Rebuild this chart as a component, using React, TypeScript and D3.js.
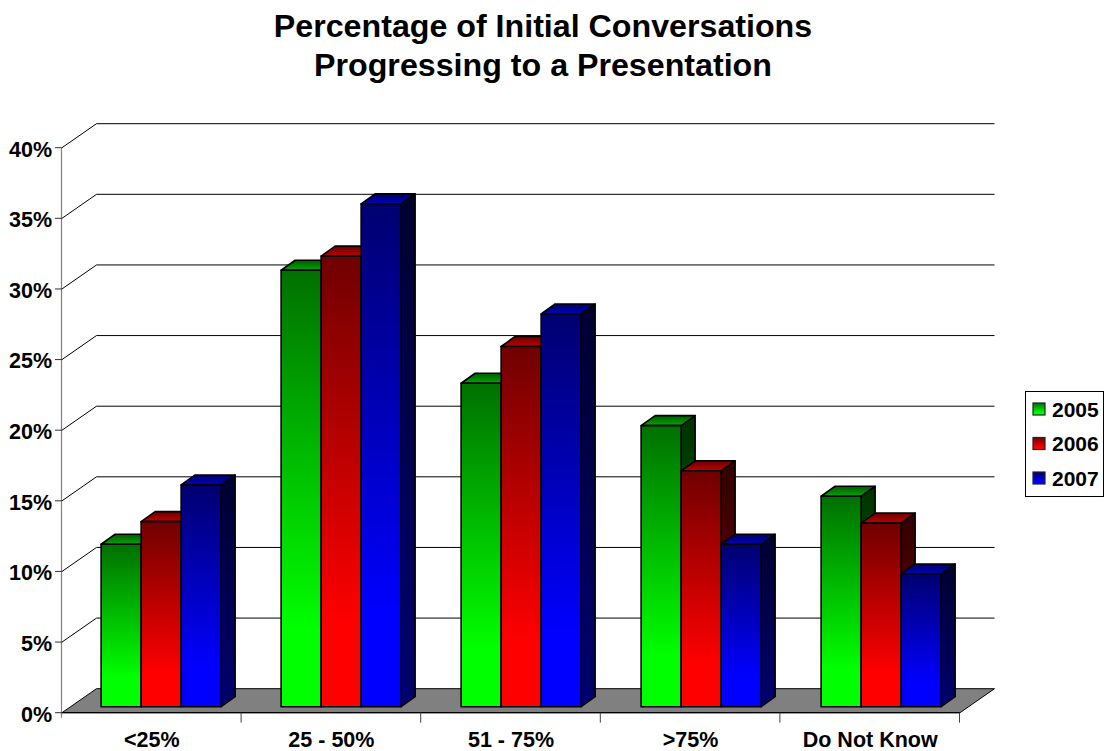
import React from "react";
import * as d3 from "d3";

const categories = ["<25%", "25 - 50%", "51 - 75%", ">75%", "Do Not Know"];
const seriesNames = ["2005", "2006", "2007"];
const values2005 = [11.5, 30.9, 22.9, 19.9, 14.9];
const values2006 = [13.1, 31.9, 25.5, 16.7, 13.0];
const values2007 = [15.7, 35.6, 27.8, 11.5, 9.4];
const yTicks = [0, 5, 10, 15, 20, 25, 30, 35, 40];
const titleLines = ["Percentage of Initial Conversations", "Progressing to a Presentation"];

const seriesValues = [values2005, values2006, values2007];
const palette = [
  { front0: "#007000", front1: "#00ff00", side0: "#003300", side1: "#007000", top0: "#005a00", top1: "#00a800" },
  { front0: "#700000", front1: "#ff0000", side0: "#330000", side1: "#700000", top0: "#6a0000", top1: "#c00000" },
  { front0: "#000070", front1: "#0000ff", side0: "#000030", side1: "#000070", top0: "#000070", top1: "#0000b8" },
];

const FONT = "'Liberation Sans', Arial, sans-serif";

// Oblique projection: the front plane of the box and the wall are offset by (wallDx, -wallDy).
const frontLeft = 62;
const frontRight = 960;
const frontBase = 712.7;
const frontTop = 147.7;
const wallDx = 34.5;
const wallDy = 24;
const barInset = 0.25;
const barDx = 14;
const barDy = 10;

const x = d3.scaleBand<string>().domain(categories).range([frontLeft, frontRight]);
// Bar clusters sit on a slightly wider pitch than the axis categories.
const cluster = d3.scaleBand<string>().domain(categories).range([frontLeft + 0.5, frontLeft + 900.5]);
const y = d3.scaleLinear().domain([0, 40]).range([frontBase, frontTop]);
const inner = d3.scaleBand<string>().domain(seriesNames).range([0, 120]);

const pts = (p: [number, number][]) => p.map((q) => q.join(",")).join(" ");

export default function App() {
  const barOffsetX = wallDx * barInset;
  const barOffsetY = wallDy * barInset;
  const catStep = x.step();
  const groupPad = (cluster.step() - 120) / 2;
  const edgeTicks = d3.range(categories.length + 1).map((i) => frontLeft + i * catStep);

  return (
    <svg
      width={1104}
      height={751}
      viewBox="0 0 1104 751"
      style={{ position: "absolute", left: 0, top: 0, display: "block", background: "#fff" }}
      fontFamily={FONT}
    >
      <defs>
        {palette.map((c, i) => (
          <React.Fragment key={i}>
            <linearGradient id={`front${i}`} x1="0" y1="0" x2="0" y2="1">
              <stop offset="0" stopColor={c.front0} />
              <stop offset="0.82" stopColor={c.front1} />
              <stop offset="1" stopColor={c.front1} />
            </linearGradient>
            <linearGradient id={`side${i}`} x1="0" y1="0" x2="0" y2="1">
              <stop offset="0" stopColor={c.side0} />
              <stop offset="1" stopColor={c.side1} />
            </linearGradient>
            <linearGradient id={`top${i}`} x1="0" y1="0" x2="0" y2="1">
              <stop offset="0" stopColor={c.top0} />
              <stop offset="1" stopColor={c.top1} />
            </linearGradient>
          </React.Fragment>
        ))}
      </defs>

      {titleLines.map((t, i) => (
        <text key={t} x={543} y={36.5 + i * 39} textAnchor="middle" fontSize={32.2} fontWeight="bold" fill="#000">
          {t}
        </text>
      ))}

      {/* floor */}
      <polygon
        points={pts([
          [frontLeft, frontBase],
          [frontLeft + wallDx, frontBase - wallDy],
          [frontRight + wallDx, frontBase - wallDy],
          [frontRight, frontBase],
        ])}
        fill="#808080"
        stroke="#000"
        strokeWidth={1}
      />

      {/* gridlines run along the side wall, then across the back wall */}
      {yTicks.filter((t) => t > 0).map((t) => (
        <polyline
          key={t}
          points={pts([
            [frontLeft, y(t)],
            [frontLeft + wallDx, y(t) - wallDy],
            [frontRight + wallDx, y(t) - wallDy],
          ])}
          fill="none"
          stroke="#000"
          strokeWidth={1}
        />
      ))}

      {/* axes */}
      <line x1={frontLeft - 0.5} x2={frontLeft - 0.5} y1={frontTop} y2={frontBase + 5} stroke="#808080" strokeWidth={1.2} />
      <line x1={frontLeft} x2={frontRight} y1={frontBase} y2={frontBase} stroke="#000" strokeWidth={1.2} />
      {yTicks.map((t) => (
        <g key={t}>
          <line x1={frontLeft - 7} x2={frontLeft} y1={y(t)} y2={y(t)} stroke="#333" strokeWidth={1} />
          <text x={52} y={y(t) + 8.8} textAnchor="end" fontSize={21.5} fontWeight="bold" fill="#000">
            {t}%
          </text>
        </g>
      ))}
      {edgeTicks.slice(1).map((tx) => (
        <line key={tx} x1={tx - 0.5} x2={tx - 0.5} y1={frontBase} y2={frontBase + 10} stroke="#444" strokeWidth={1} />
      ))}
      {categories.map((c) => (
        <text key={c} x={(x(c) as number) + catStep / 2} y={747} textAnchor="middle" fontSize={21.5} fontWeight="bold" fill="#000">
          {c}
        </text>
      ))}

      {/* bars: each series in turn, left to right, with a top and a side face */}
      {categories.map((c, ci) =>
        seriesNames.map((s, si) => {
          const v = seriesValues[si][ci];
          const w = inner.bandwidth();
          const x0 = (cluster(c) as number) + groupPad + barOffsetX + (inner(s) as number);
          const x1 = x0 + w;
          const yb = y(0) - barOffsetY;
          const yt = y(v) - barOffsetY;
          return (
            <g key={s} stroke="#000" strokeWidth={1.6} strokeLinejoin="round">
              <polygon
                points={pts([[x1, yb], [x1 + barDx, yb - barDy], [x1 + barDx, yt - barDy], [x1, yt]])}
                fill={`url(#side${si})`}
              />
              <polygon
                points={pts([[x0, yt], [x0 + barDx, yt - barDy], [x1 + barDx, yt - barDy], [x1, yt]])}
                fill={`url(#top${si})`}
              />
              <rect x={x0} y={yt} width={w} height={yb - yt} fill={`url(#front${si})`} />
            </g>
          );
        })
      )}

      {/* legend */}
      <rect x={1025.5} y={391.5} width={78} height={105} fill="#fff" stroke="#000" strokeWidth={1} />
      {seriesNames.map((s, i) => (
        <g key={s}>
          <rect x={1033} y={403 + i * 34.5} width={12} height={12} fill={`url(#front${i})`} stroke="#222" strokeWidth={1.2} />
          <text x={1052} y={416.5 + i * 34.5} fontSize={21} fontWeight="bold" fill="#000">
            {s}
          </text>
        </g>
      ))}
    </svg>
  );
}
